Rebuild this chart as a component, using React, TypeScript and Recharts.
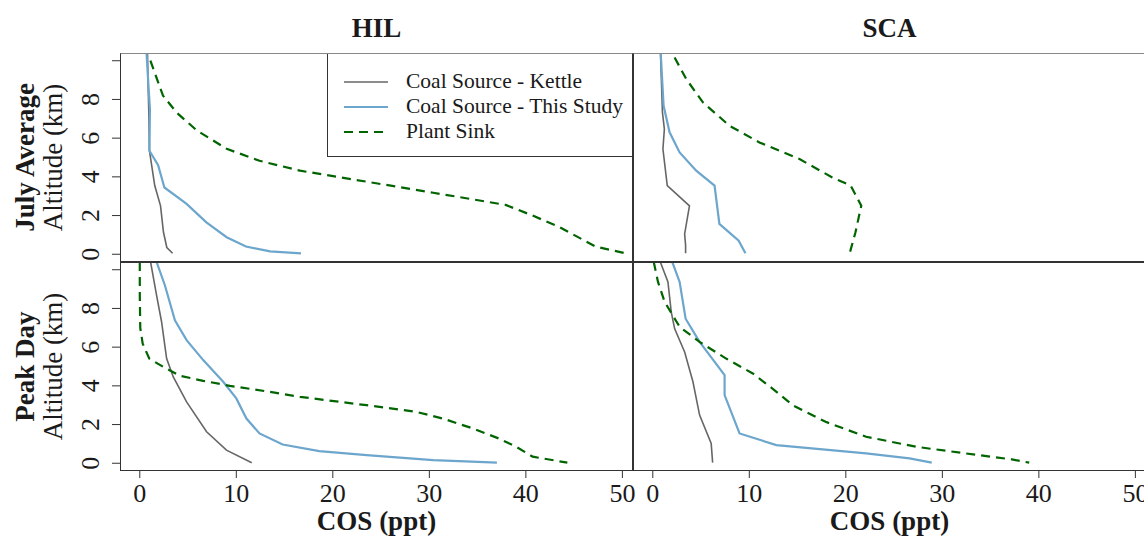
import React from 'react';
import { ScatterChart, Scatter, XAxis, YAxis, Legend } from 'recharts';

// COS (ppt) vs altitude (km) profiles
const hilJulyKettle = [
  { cos: 0.8, alt: 10.4 }, { cos: 0.85, alt: 9 }, { cos: 0.9, alt: 8 }, { cos: 0.95, alt: 7 },
  { cos: 1.0, alt: 5.35 }, { cos: 1.55, alt: 3.55 }, { cos: 2.15, alt: 2.5 }, { cos: 2.45, alt: 1.15 },
  { cos: 2.8, alt: 0.35 }, { cos: 3.4, alt: 0.05 },
];
const hilJulyStudy = [
  { cos: 0.7, alt: 10.4 }, { cos: 0.9, alt: 8.7 }, { cos: 1.05, alt: 7.5 }, { cos: 1.0, alt: 5.35 },
  { cos: 1.9, alt: 4.6 }, { cos: 2.55, alt: 3.45 }, { cos: 4.85, alt: 2.6 }, { cos: 6.9, alt: 1.65 },
  { cos: 9.0, alt: 0.88 }, { cos: 11.0, alt: 0.4 }, { cos: 13.5, alt: 0.15 }, { cos: 16.7, alt: 0.05 },
];
const hilJulySink = [
  { cos: 1.1, alt: 10.0 }, { cos: 2.4, alt: 8.2 }, { cos: 3.8, alt: 7.33 }, { cos: 5.9, alt: 6.4 },
  { cos: 9.0, alt: 5.45 }, { cos: 12.4, alt: 4.83 }, { cos: 16.6, alt: 4.32 }, { cos: 23.5, alt: 3.75 },
  { cos: 30.4, alt: 3.18 }, { cos: 37.9, alt: 2.55 }, { cos: 40.7, alt: 2.0 }, { cos: 43.5, alt: 1.4 },
  { cos: 47.2, alt: 0.4 }, { cos: 50.3, alt: 0.05 },
];

const scaJulyKettle = [
  { cos: 0.8, alt: 10.4 }, { cos: 1.0, alt: 7.33 }, { cos: 1.2, alt: 6.47 }, { cos: 1.05, alt: 5.44 },
  { cos: 1.5, alt: 3.55 }, { cos: 3.8, alt: 2.5 }, { cos: 3.3, alt: 1.05 }, { cos: 3.4, alt: 0.45 },
  { cos: 3.4, alt: 0.05 },
];
const scaJulyStudy = [
  { cos: 0.82, alt: 10.4 }, { cos: 1.12, alt: 7.67 }, { cos: 1.74, alt: 6.3 }, { cos: 2.78, alt: 5.26 },
  { cos: 4.5, alt: 4.32 }, { cos: 6.4, alt: 3.55 }, { cos: 6.9, alt: 1.57 }, { cos: 8.9, alt: 0.7 },
  { cos: 9.6, alt: 0.05 },
];
const scaJulySink = [
  { cos: 2.26, alt: 10.17 }, { cos: 3.47, alt: 9.05 }, { cos: 5.19, alt: 7.85 }, { cos: 7.95, alt: 6.64 },
  { cos: 11.05, alt: 5.78 }, { cos: 15.2, alt: 4.92 }, { cos: 18.6, alt: 3.97 }, { cos: 20.5, alt: 3.55 },
  { cos: 21.6, alt: 2.51 }, { cos: 21.0, alt: 1.14 }, { cos: 20.4, alt: 0.05 },
];

const hilPeakKettle = [
  { cos: 1.12, alt: 10.4 }, { cos: 1.74, alt: 8.68 }, { cos: 2.26, alt: 7.3 }, { cos: 2.78, alt: 5.41 },
  { cos: 3.47, alt: 4.46 }, { cos: 4.85, alt: 3.17 }, { cos: 6.92, alt: 1.63 }, { cos: 8.98, alt: 0.68 },
  { cos: 11.6, alt: 0.03 },
];
const hilPeakStudy = [
  { cos: 1.74, alt: 10.4 }, { cos: 2.6, alt: 9.2 }, { cos: 3.64, alt: 7.39 }, { cos: 4.85, alt: 6.36 },
  { cos: 6.57, alt: 5.33 }, { cos: 8.64, alt: 4.21 }, { cos: 10.0, alt: 3.35 }, { cos: 11.05, alt: 2.31 },
  { cos: 12.4, alt: 1.54 }, { cos: 14.8, alt: 0.97 }, { cos: 18.6, alt: 0.63 }, { cos: 23.5, alt: 0.42 },
  { cos: 30.4, alt: 0.16 }, { cos: 37.0, alt: 0.03 },
];
const hilPeakSink = [
  { cos: 0.0, alt: 10.4 }, { cos: 0.0, alt: 8.7 }, { cos: 0.05, alt: 7.0 }, { cos: 0.3, alt: 6.18 },
  { cos: 0.98, alt: 5.41 }, { cos: 2.43, alt: 4.98 }, { cos: 4.16, alt: 4.52 }, { cos: 6.57, alt: 4.26 },
  { cos: 9.33, alt: 4.0 }, { cos: 13.5, alt: 3.69 }, { cos: 16.6, alt: 3.43 }, { cos: 23.5, alt: 3.0 },
  { cos: 28.6, alt: 2.66 }, { cos: 31.4, alt: 2.31 }, { cos: 34.5, alt: 1.8 }, { cos: 37.2, alt: 1.28 },
  { cos: 39.0, alt: 0.85 }, { cos: 40.7, alt: 0.34 }, { cos: 44.3, alt: 0.03 },
];

const scaPeakKettle = [
  { cos: 0.78, alt: 10.4 }, { cos: 1.57, alt: 9.37 }, { cos: 1.91, alt: 7.82 }, { cos: 2.26, alt: 6.96 },
  { cos: 3.3, alt: 5.75 }, { cos: 4.16, alt: 4.21 }, { cos: 4.85, alt: 2.49 }, { cos: 6.05, alt: 1.02 },
  { cos: 6.2, alt: 0.03 },
];
const scaPeakStudy = [
  { cos: 2.02, alt: 10.4 }, { cos: 2.78, alt: 9.37 }, { cos: 3.4, alt: 7.47 }, { cos: 4.85, alt: 6.27 },
  { cos: 7.44, alt: 4.55 }, { cos: 7.44, alt: 3.52 }, { cos: 8.99, alt: 1.54 }, { cos: 12.8, alt: 0.94 },
  { cos: 22.1, alt: 0.51 }, { cos: 26.6, alt: 0.25 }, { cos: 28.9, alt: 0.03 },
];
const scaPeakSink = [
  { cos: 0.1, alt: 10.4 }, { cos: 0.54, alt: 9.37 }, { cos: 1.23, alt: 8.34 }, { cos: 2.78, alt: 7.05 },
  { cos: 4.85, alt: 6.27 }, { cos: 7.6, alt: 5.41 }, { cos: 10.36, alt: 4.64 }, { cos: 12.4, alt: 3.86 },
  { cos: 14.5, alt: 3.0 }, { cos: 17.9, alt: 2.14 }, { cos: 22.1, alt: 1.37 }, { cos: 27.3, alt: 0.85 },
  { cos: 32.4, alt: 0.51 }, { cos: 37.2, alt: 0.2 }, { cos: 39.0, alt: 0.03 },
];

const X_TICKS = [0, 10, 20, 30, 40, 50];
const Y_TICKS = [0, 2, 4, 6, 8, 10];
const X_DOMAIN = [-2.05, 51.1];
const Y_DOMAIN = [-0.4, 10.4];

const SITES = ['HIL', 'SCA'];
const ROWS = ['July Average', 'Peak Day'];

const SERIES = [
  { name: 'Coal Source - Kettle', color: '#666666', width: 1.6, dash: undefined },
  { name: 'Coal Source - This Study', color: '#6CA6CD', width: 2.2, dash: undefined },
  { name: 'Plant Sink', color: '#006400', width: 2.2, dash: '9 6' },
];

const FONT = '"Liberation Serif", "Times New Roman", serif';
const INK = '#1a1a1a';

// plot box geometry (R style panels)
const BOX_LEFT = 120;
const BOX_W = 513;
const BOX_H = 209;
const TOP_Y = 53;
const AXIS_H = 69;
const SPILL = 24; // room on the right so the last tick label is not clipped

const AltTick = ({ x, y, payload }: any) => {
  if (payload.value === 10) return <g />;
  return (
    <text transform={`translate(${x - 13},${y}) rotate(-90)`} textAnchor="middle"
      fontSize={26} fontFamily={FONT} fill={INK}>
      {payload.value}
    </text>
  );
};

const CosTick = ({ x, y, payload }: any) => (
  <text x={x} y={y + 24} textAnchor="middle" fontSize={26} fontFamily={FONT} fill={INK}>
    {payload.value}
  </text>
);

const rowLabel = (title: string) => (props: any) => {
  const vb = props.viewBox || {};
  const cy = (vb.y || 0) + (vb.height || BOX_H) / 2;
  return (
    <g fontFamily={FONT} fill={INK} fontSize={27}>
      <text transform={`translate(34,${cy}) rotate(-90)`} textAnchor="middle" fontWeight="bold">{title}</text>
      <text transform={`translate(62,${cy}) rotate(-90)`} textAnchor="middle">Altitude (km)</text>
    </g>
  );
};

const LegendBox = () => (
  <div style={{
    width: '100%', height: '100%', boxSizing: 'border-box', background: '#fff',
    border: '1px solid #333', borderTopColor: '#888', padding: '15px 0 0 16px',
    fontFamily: FONT, color: INK, fontSize: 21.5,
  }}>
    {SERIES.map((s) => (
      <div key={s.name} style={{ display: 'flex', alignItems: 'center', height: 25 }}>
        <svg width={44} height={10} style={{ marginRight: 18 }}>
          <line x1={0} x2={44} y1={5} y2={5} stroke={s.color} strokeWidth={s.width} strokeDasharray={s.dash} />
        </svg>
        <span style={{ whiteSpace: 'nowrap' }}>{s.name}</span>
      </div>
    ))}
  </div>
);

function Panel({ row, col, lines }: { row: number; col: number; lines: any[][] }) {
  const leftCol = col === 0;
  const bottomRow = row === 1;
  const width = (leftCol ? BOX_LEFT + BOX_W : BOX_W) + SPILL;
  const height = bottomRow ? BOX_H + AXIS_H : BOX_H;
  const left = leftCol ? 0 : BOX_LEFT + BOX_W;
  const top = TOP_Y + row * BOX_H;

  return (
    <div style={{ position: 'absolute', left, top }}>
      <ScatterChart width={width} height={height} margin={{ top: 0, right: SPILL, bottom: 0, left: 0 }}>
        <XAxis type="number" dataKey="cos" domain={X_DOMAIN} allowDataOverflow ticks={X_TICKS} interval={0}
          hide={!bottomRow} height={AXIS_H} axisLine={false} tickSize={7} tickMargin={0}
          tickLine={{ stroke: '#333' }} tick={<CosTick />}
          label={{ value: 'COS (ppt)', position: 'insideBottom', offset: 10,
            style: { fontFamily: FONT, fontSize: 27, fontWeight: 'bold', fill: INK } }} />
        <YAxis type="number" dataKey="alt" domain={Y_DOMAIN} allowDataOverflow ticks={Y_TICKS} interval={0}
          hide={!leftCol} width={BOX_LEFT} axisLine={false} tickSize={8} tickMargin={0}
          tickLine={{ stroke: '#333' }} tick={<AltTick />} label={rowLabel(ROWS[row])} />
        {SERIES.map((s, i) => (
          <Scatter key={s.name} name={s.name} data={lines[i]} fill={s.color}
            line={{ stroke: s.color, strokeWidth: s.width, strokeDasharray: s.dash }}
            shape={() => <g />} isAnimationActive={false} />
        ))}
        {row === 0 && col === 0 && (
          <Legend layout="horizontal" verticalAlign="middle" align="center" content={<LegendBox />}
            wrapperStyle={{ position: 'absolute', left: 327, top: 0, width: 306, height: 104, margin: 0 }} />
        )}
      </ScatterChart>
      <div style={{
        position: 'absolute', left: leftCol ? BOX_LEFT : 0, top: 0, width: BOX_W, height: BOX_H,
        boxSizing: 'border-box', border: '1px solid #333', borderTopColor: row === 0 ? '#888' : '#333',
        pointerEvents: 'none',
      }} />
    </div>
  );
}

export default function App() {
  const panels = [
    [hilJulyKettle, hilJulyStudy, hilJulySink],
    [scaJulyKettle, scaJulyStudy, scaJulySink],
    [hilPeakKettle, hilPeakStudy, hilPeakSink],
    [scaPeakKettle, scaPeakStudy, scaPeakSink],
  ];
  return (
    <div style={{ position: 'absolute', left: 0, top: 0, width: 1144, height: 540, overflow: 'hidden', background: '#fff' }}>
      {SITES.map((site, c) => (
        <div key={site} style={{
          position: 'absolute', top: 12, left: BOX_LEFT + c * BOX_W, width: BOX_W, textAlign: 'center',
          fontFamily: FONT, fontWeight: 'bold', fontSize: 27, color: INK, lineHeight: '32px',
        }}>{site}</div>
      ))}
      {panels.map((p, i) => (
        <Panel key={i} row={Math.floor(i / 2)} col={i % 2} lines={p} />
      ))}
    </div>
  );
}
